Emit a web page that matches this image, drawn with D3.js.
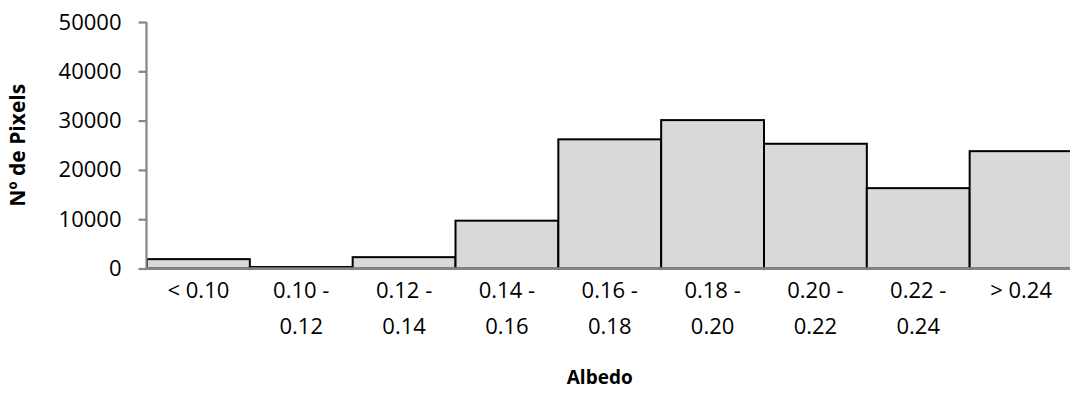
<!DOCTYPE html>
<html>
<head>
<meta charset="utf-8">
<script src="https://cdn.jsdelivr.net/npm/d3@7"></script>
<style>
  html, body { margin: 0; padding: 0; background: #fff; }
  svg { display: block; }
  text { font-family: "Open Sans", sans-serif; fill: #000; }
</style>
</head>
<body>
<svg id="chart" width="1070" height="407"></svg>
<script>
const categories = ["< 0.10", "0.10 - 0.12", "0.12 - 0.14", "0.14 - 0.16", "0.16 - 0.18", "0.18 - 0.20", "0.20 - 0.22", "0.22 - 0.24", "> 0.24"];
const categoryLines = [["< 0.10"], ["0.10 -", "0.12"], ["0.12 -", "0.14"], ["0.14 -", "0.16"], ["0.16 -", "0.18"], ["0.18 -", "0.20"], ["0.20 -", "0.22"], ["0.22 -", "0.24"], ["> 0.24"]];
const pixelCounts = [1900, 300, 2300, 9700, 26200, 30100, 25300, 16300, 23800];
const yTickValues = [0, 10000, 20000, 30000, 40000, 50000];
const xTitle = "Albedo";
const yTitle = "Nº de Pixels";

(function () {
const svg = d3.select("#chart");
const mLeft = 147, mRight = 1072.5, mTop = 22, mBottom = 268.5;

const x = d3.scaleBand().domain(categories).range([mLeft, mRight]).paddingInner(0).paddingOuter(0);
const y = d3.scaleLinear().domain([0, 50000]).range([mBottom, mTop]);

// bars
svg.append("g").selectAll("rect")
  .data(pixelCounts)
  .join("rect")
  .attr("x", (d, i) => x(categories[i]))
  .attr("y", d => y(d))
  .attr("width", x.bandwidth())
  .attr("height", d => y(0) - y(d))
  .attr("fill", "#d9d9d9")
  .attr("stroke", "#000")
  .attr("stroke-width", 2);

// y axis
const yAxis = svg.append("g")
  .attr("transform", `translate(${mLeft - 0.5},0)`)
  .call(d3.axisLeft(y).tickValues(yTickValues).tickSize(8).tickPadding(17).tickFormat(d3.format("d")));
yAxis.select(".domain").attr("stroke", "#868686").attr("stroke-width", 2.2).attr("d", `M0,${mTop}V${mBottom + 1}`);
yAxis.selectAll(".tick line").attr("stroke", "#868686").attr("stroke-width", 2.2);
yAxis.selectAll(".tick text").style("font-size", "22px").style("font-family", "'Open Sans', sans-serif").attr("fill", "#000");

// x axis
const xAxis = svg.append("g")
  .attr("transform", `translate(0,${mBottom})`)
  .call(d3.axisBottom(x).tickSize(0).tickFormat(""));
xAxis.select(".domain").attr("stroke", "#868686").attr("stroke-width", 2.5).attr("d", `M${mLeft - 1.5},0H1070`);

// x labels (two lines)
const lab = svg.append("g").selectAll("text")
  .data(categories)
  .join("text")
  .attr("x", d => x(d) + x.bandwidth() / 2)
  .attr("y", 298)
  .attr("text-anchor", "middle")
  .style("font-size", "22px");
lab.selectAll("tspan")
  .data((d, i) => categoryLines[i])
  .join("tspan")
  .attr("x", function () { return this.parentNode.getAttribute("x"); })
  .attr("dy", (d, j) => j === 0 ? 0 : 36)
  .text(d => d);

// titles
svg.append("text")
  .attr("x", (mLeft + mRight) / 2 - 10)
  .attr("y", 384)
  .attr("text-anchor", "middle")
  .style("font-size", "19px")
  .style("font-weight", "bold")
  .text(xTitle);

svg.append("text")
  .attr("transform", `translate(25,${(mTop + mBottom) / 2}) rotate(-90)`)
  .attr("text-anchor", "middle")
  .style("font-size", "21px")
  .style("font-weight", "bold")
  .text(yTitle);
})();
</script>
</body>
</html>
